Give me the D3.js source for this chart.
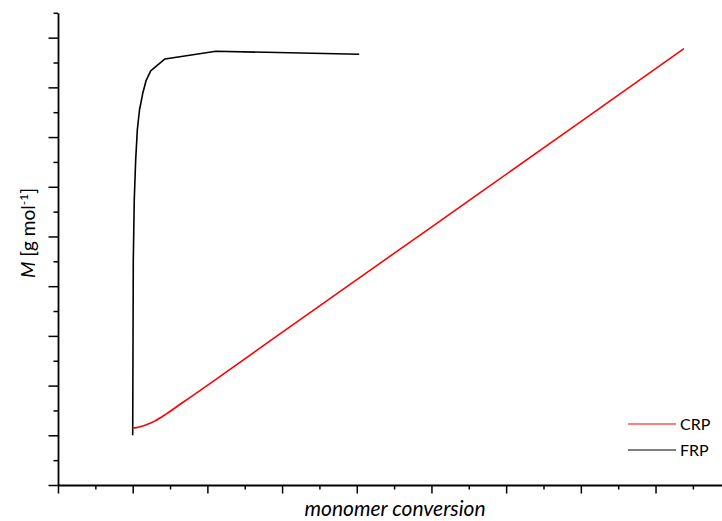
<!DOCTYPE html>
<html>
<head>
<meta charset="utf-8">
<script src="https://cdn.jsdelivr.net/npm/d3@7"></script>
<style>
  body { margin: 0; background: #fff; }
  text { font-family: Lato, "Open Sans", sans-serif; fill: #000; }
</style>
</head>
<body>
<div id="chart"></div>
<script>
// conversion / molar mass (arbitrary units, no tick labels in the original)
var crpX = [0, 0.005, 0.01, 0.02, 0.03, 0.045, 0.065, 0.09, 0.11, 0.2, 0.4, 0.6, 0.738];
var crpY = [1.15, 1.155, 1.17, 1.22, 1.29, 1.43, 1.64, 1.9, 2.11, 3.07, 5.19, 7.31, 8.78];

var frpX = [0, 0.0004, 0.0008, 0.0021, 0.004, 0.0062, 0.0091, 0.0134, 0.0178, 0.0241, 0.0432, 0.1115, 0.3033];
var frpY = [1.0, 2.716, 4.527, 5.734, 6.539, 7.143, 7.545, 7.875, 8.129, 8.33, 8.571, 8.726, 8.666];

var xMajor = [-0.1, 0, 0.1, 0.2, 0.3, 0.4, 0.5, 0.6, 0.7];
var xMinor = [-0.05, 0.05, 0.15, 0.25, 0.35, 0.45, 0.55, 0.65, 0.75];
var yMajor = [0, 1, 2, 3, 4, 5, 6, 7, 8, 9];
var yMinor = [0.5, 1.5, 2.5, 3.5, 4.5, 5.5, 6.5, 7.5, 8.5, 9.5];

var seriesNames = ["CRP", "FRP"];
var seriesColors = ["#ff0000", "#000000"];

var width = 722, height = 521;

var svg = d3.select("#chart")
  .append("svg")
  .attr("width", width)
  .attr("height", height);

var x = d3.scaleLinear().domain([-0.1, 0.789]).range([58, 722]);
var y = d3.scaleLinear().domain([0, 9.5]).range([485, 12.8]);

function styleAxis(g){
  g.selectAll("path").attr("stroke", "#000").attr("stroke-width", 1.8);
  g.selectAll("line").attr("stroke", "#000").attr("stroke-width", 1.5);
  g.selectAll("text").remove();
}

// minor ticks first, majors on top with the axis line
svg.append("g")
  .attr("transform", "translate(0,485)")
  .call(d3.axisBottom(x).tickValues(xMinor).tickSize(4.5).tickSizeOuter(0))
  .call(styleAxis)
  .select("path").remove();
svg.append("g")
  .attr("transform", "translate(0,485)")
  .call(d3.axisBottom(x).tickValues(xMajor).tickSize(8.5).tickSizeOuter(0))
  .call(styleAxis);

svg.append("g")
  .attr("transform", "translate(58,0)")
  .call(d3.axisLeft(y).tickValues(yMinor).tickSize(4.5).tickSizeOuter(0))
  .call(styleAxis)
  .select("path").remove();
svg.append("g")
  .attr("transform", "translate(58,0)")
  .call(d3.axisLeft(y).tickValues(yMajor).tickSize(9.5).tickSizeOuter(0))
  .call(styleAxis);

var line = d3.line()
  .x(function(d){ return x(d[0]); })
  .y(function(d){ return y(d[1]); })
  .curve(d3.curveMonotoneX);

var lineLin = d3.line()
  .x(function(d){ return x(d[0]); })
  .y(function(d){ return y(d[1]); });

svg.append("path")
  .datum(d3.zip(frpX, frpY))
  .attr("d", lineLin)
  .attr("fill", "none")
  .attr("stroke", seriesColors[1])
  .attr("stroke-width", 1.6)
  .attr("stroke-linejoin", "round");

svg.append("path")
  .datum(d3.zip(crpX, crpY))
  .attr("d", line)
  .attr("fill", "none")
  .attr("stroke", seriesColors[0])
  .attr("stroke-width", 1.6);

// legend
var legend = svg.append("g").attr("transform", "translate(628,424)");
seriesNames.forEach(function(name, i){
  var row = legend.append("g").attr("transform", "translate(0," + (i * 26) + ")");
  row.append("line")
    .attr("x1", 0).attr("x2", 48)
    .attr("stroke", seriesColors[i])
    .attr("stroke-width", 1.2);
  row.append("text")
    .attr("x", 52)
    .attr("dy", "0.36em")
    .style("font-size", "16px")
    .text(name);
});

// axis titles
svg.append("text")
  .attr("x", 395)
  .attr("y", 516)
  .attr("text-anchor", "middle")
  .style("font-size", "21px")
  .style("font-style", "italic")
  .text("monomer conversion");

var yl = svg.append("text")
  .attr("transform", "translate(35,233) rotate(-90)")
  .attr("text-anchor", "middle")
  .style("font-size", "19px");
yl.append("tspan").style("font-style", "italic").text("M");
yl.append("tspan").text(" [g mol");
yl.append("tspan").attr("baseline-shift", "super").style("font-size", "12px").text("-1");
yl.append("tspan").text("]");
</script>
</body>
</html>
